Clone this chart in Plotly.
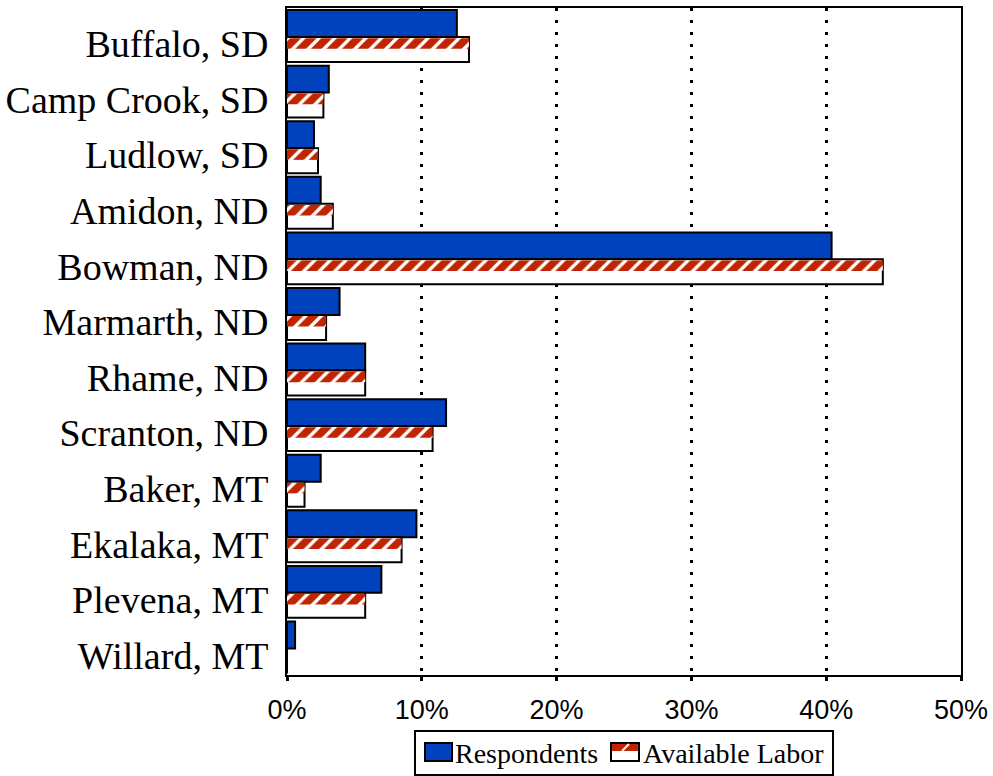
import plotly.graph_objects as go

towns = ["Buffalo, SD", "Camp Crook, SD", "Ludlow, SD", "Amidon, ND", "Bowman, ND",
         "Marmarth, ND", "Rhame, ND", "Scranton, ND", "Baker, MT", "Ekalaka, MT",
         "Plevena, MT", "Willard, MT"]
respondents = [12.6, 3.1, 2.0, 2.5, 40.4, 3.9, 5.8, 11.8, 2.5, 9.6, 7.0, 0.6]
available_labor = [13.5, 2.7, 2.3, 3.4, 44.2, 2.9, 5.8, 10.8, 1.3, 8.5, 5.8, 0.0]
series_names = ["Respondents", "Available Labor"]
x_ticks = [0, 10, 20, 30, 40, 50]
x_tick_labels = ["0%", "10%", "20%", "30%", "40%", "50%"]

BLUE = "#0041BE"
RED = "#C02400"
W, H = 993, 776
ML, MR, MT, MB = 287, 32, 8, 101
PW, PH = W - ML - MR, H - MT - MB


def px_x(p):
    return (p - ML) / PW


def px_y(p):
    return (H - MB - p) / PH


fig = go.Figure()

fig.add_trace(go.Bar(
    y=towns, x=respondents, orientation="h", name=series_names[0],
    offset=-0.61, width=0.485, showlegend=False,
    marker=dict(color=BLUE, line=dict(color="black", width=2)),
))
fig.add_trace(go.Bar(
    y=towns, x=available_labor, orientation="h", name=series_names[1],
    offset=-0.125, width=0.45, showlegend=False,
    marker=dict(color="white", line=dict(color="black", width=2)),
))
fig.add_trace(go.Bar(
    y=towns, x=available_labor, orientation="h", name=series_names[1],
    offset=-0.105, width=0.19, showlegend=False,
    marker=dict(color=RED, line=dict(color="black", width=0),
                pattern=dict(shape="/", bgcolor=RED, fgcolor="white",
                             size=11, solidity=0.3, fillmode="replace")),
))

# manual legend (box, swatches, labels)
shapes = [
    dict(type="rect", xref="paper", yref="paper",
         x0=px_x(415), x1=px_x(833), y0=px_y(731), y1=px_y(775),
         line=dict(color="black", width=2), fillcolor="white"),
    dict(type="rect", xref="paper", yref="paper",
         x0=px_x(425), x1=px_x(452), y0=px_y(743), y1=px_y(761),
         line=dict(color="black", width=2), fillcolor=BLUE),
    dict(type="rect", xref="paper", yref="paper",
         x0=px_x(611), x1=px_x(639), y0=px_y(743), y1=px_y(761),
         line=dict(color="black", width=2), fillcolor="white"),
    dict(type="rect", xref="paper", yref="paper",
         x0=px_x(612), x1=px_x(638), y0=px_y(744), y1=px_y(751),
         line=dict(width=0), fillcolor=RED),
    dict(type="line", xref="paper", yref="paper",
         x0=px_x(622), x1=px_x(629), y0=px_y(751), y1=px_y(744),
         line=dict(color="white", width=2)),
]
annotations = [
    dict(xref="paper", yref="paper", x=px_x(453), y=px_y(753), text=series_names[0],
         showarrow=False, xanchor="left", yanchor="middle",
         font=dict(family="Liberation Serif", size=28, color="black")),
    dict(xref="paper", yref="paper", x=px_x(641), y=px_y(753), text=series_names[1],
         showarrow=False, xanchor="left", yanchor="middle",
         font=dict(family="Liberation Serif", size=28, color="black")),
]

fig.update_layout(
    width=W, height=H,
    margin=dict(l=ML, r=MR, t=MT, b=MB, autoexpand=False),
    plot_bgcolor="white", paper_bgcolor="white",
    barmode="overlay",
    showlegend=False,
    shapes=shapes,
    annotations=annotations,
)

fig.update_xaxes(
    range=[0, 50], tickvals=x_ticks, ticktext=x_tick_labels,
    showgrid=True, gridcolor="black", gridwidth=3, griddash="3px,9px",
    zeroline=False, automargin=False,
    showline=True, linecolor="black", linewidth=2, mirror=True,
    ticks="outside", ticklen=4, tickwidth=3, tickcolor="black",
    ticklabelstandoff=6,
    tickfont=dict(family="Liberation Sans", size=27, color="black"),
)
fig.update_yaxes(
    type="category", categoryorder="array", categoryarray=towns,
    range=[11.353, -0.647], automargin=False,
    showgrid=False, zeroline=False,
    showline=True, linecolor="black", linewidth=2, mirror=True,
    ticks="", ticklabelstandoff=9,
    tickfont=dict(family="Liberation Serif", size=38, color="black"),
)

fig.write_html("out.html", config={"displayModeBar": False},
               post_script="document.body.style.margin='0';document.body.style.overflow='hidden';")
